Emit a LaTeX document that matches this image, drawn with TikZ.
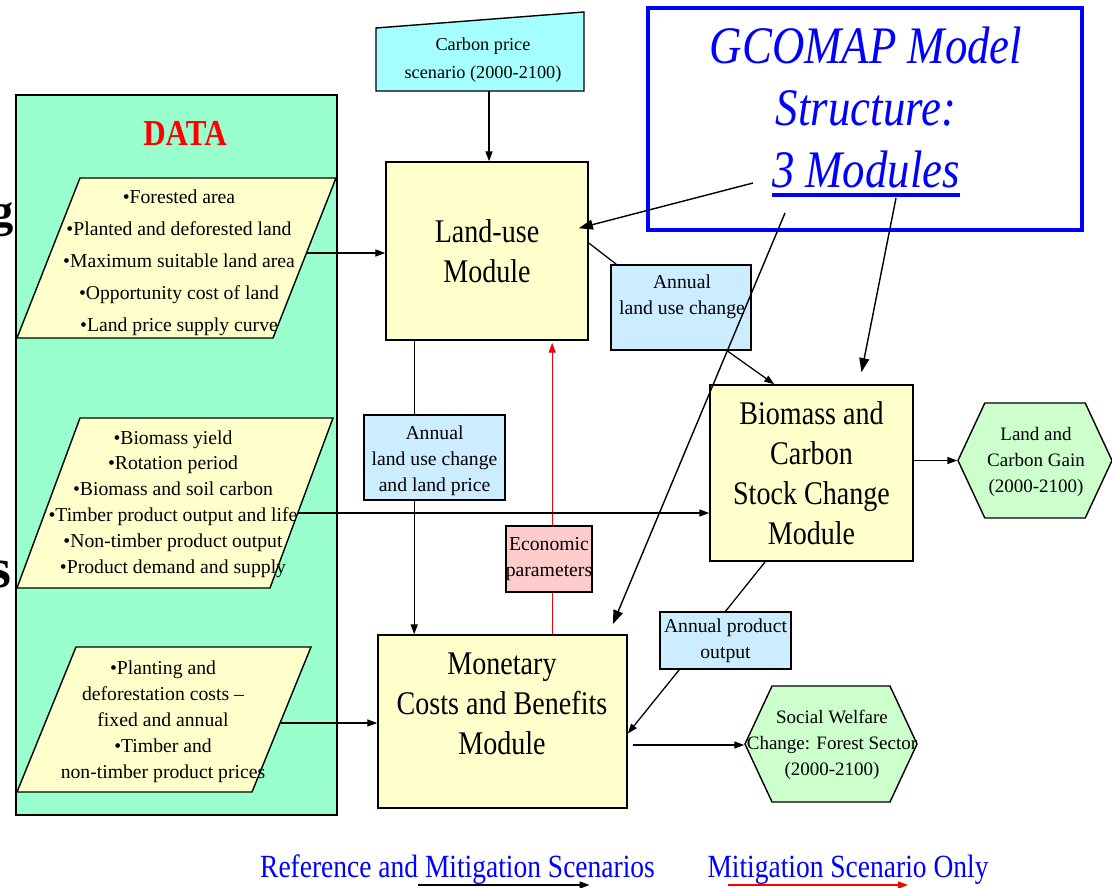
\documentclass[tikz,border=0pt]{standalone}
\usepackage{fontspec}
\setmainfont{Liberation Serif}
\newfontfamily\tightfont{Liberation Serif}[FakeStretch=0.85]
\usetikzlibrary{arrows.meta,calc,shapes.symbols}

\definecolor{panelgreen}{HTML}{99FFCC}
\definecolor{modyellow}{HTML}{FFFFCC}
\definecolor{infoblue}{HTML}{CCECFF}
\definecolor{econpink}{HTML}{FFCCCC}
\definecolor{hexgreen}{HTML}{CCFFCC}
\definecolor{scencyan}{HTML}{A6FFFF}
\definecolor{titleblue}{HTML}{0000FF}

\newsavebox{\ulbox}
\newcommand{\thickul}[1]{\sbox{\ulbox}{#1}\rlap{\rule[-7pt]{\wd\ulbox}{3pt}}\usebox{\ulbox}}

\begin{document}
\begin{tikzpicture}[x=0.025cm,y=-0.025cm,
    every node/.style={inner sep=0pt},
    flow/.style={-{Triangle[length=7pt,width=5pt]}, line width=0.9pt},
    bigflow/.style={-{Triangle[length=10pt,width=7pt]}, line width=1pt},
    module/.style={draw, line width=1.1pt, fill=modyellow, align=center,
        font=\tightfont\fontsize{23.5}{28.3}\selectfont},
    infobox/.style={draw, line width=1pt, fill=infoblue, align=center,
        font=\fontsize{14}{18.4}\selectfont},
    datashape/.style={draw, line width=1pt, fill=modyellow},
    datatext/.style={align=center, font=\fontsize{14}{18.4}\selectfont},
    outhex/.style={signal, signal to=east and west, signal pointer angle=130,
        draw, line width=1pt, fill=hexgreen},
    hextext/.style={align=center, font=\fontsize{13.5}{18.4}\selectfont},
    legend/.style={text=titleblue, font=\tightfont\fontsize{23}{23}\selectfont},
  ]
  \useasboundingbox (0,0) rectangle (1112,888);

  % data panel
  \node[draw, line width=1.2pt, fill=panelgreen, minimum width=8.025cm,
    minimum height=18cm] (panel) at (176.5,455) {};
  \node[text=red, font=\tightfont\bfseries\fontsize{26}{26}\selectfont] (datatitle) at (185,133) {DATA};
  \node[anchor=base east, font=\bfseries\fontsize{33}{33}\selectfont] (cutg) at (14,226) {g};
  \node[anchor=base east, font=\bfseries\fontsize{40}{40}\selectfont] (cuts) at (12,587) {s};

  % data inputs
  \draw[datashape] (80,178) -- (336,178) -- (273,338) -- (17,338) -- cycle;
  \node[datatext, font=\fontsize{14}{22.7}\selectfont] (landdata) at (179,263)
    {•Forested area\\•Planted and deforested land\\•Maximum suitable land area\\•Opportunity cost of land\\•Land price supply curve};
  \draw[datashape] (80,418) -- (333,418) -- (270,588) -- (17,588) -- cycle;
  \node[datatext] (biodata) at (173,504)
    {•Biomass yield\\•Rotation period\\•Biomass and soil carbon\\•Timber product output and life\\•Non-timber product output\\•Product demand and supply};
  \draw[datashape] (76,647) -- (311,647) -- (252,792) -- (17,792) -- cycle;
  \node[datatext] (costdata) at (163,722)
    {•Planting and\\deforestation costs –\\fixed and annual\\•Timber and\\non-timber product prices};
  \coordinate (landout) at (306.5,253);
  \coordinate (bioout) at (298,513);
  \coordinate (costout) at (281,723);

  % carbon price scenario
  \draw[line width=1pt, fill=scencyan] (376,28) -- (584,12) -- (584,91) -- (376,91) -- cycle;
  \node[align=center, font=\fontsize{13}{20}\selectfont] (carbon) at (483,60)
    {Carbon price\\scenario (2000-2100)};
  \coordinate (carbonbase) at (489,91);

  % modules
  \node[module, minimum width=5.05cm, minimum height=4.45cm] (landuse) at (487,251) {Land-use\\Module};
  \node[module, minimum width=5.075cm, minimum height=4.4cm] (biomass) at (811.5,473)
    {Biomass and\\Carbon\\Stock Change\\Module};
  \node[module, minimum width=6.225cm, minimum height=4.325cm] (monetary) at (502.5,721.5) {};
  \node[align=center, font=\tightfont\fontsize{23.5}{28.3}\selectfont] (monetarytext) at (502,704)
    {Monetary\\Costs and Benefits\\Module};

  % outputs
  \node[outhex, minimum width=3.85cm, minimum height=2.875cm] (gainhex) at (1035,460.5) {};
  \node[hextext] (gaintext) at (1036,462) {Land and\\Carbon Gain\\(2000-2100)};
  \node[outhex, minimum width=4.3cm, minimum height=2.9cm] (welfarehex) at (831,744) {};
  \node[hextext] (welfaretext) at (832,745) {Social Welfare\\Change: Forest Sector\\(2000-2100)};

  % model title
  \node[draw=titleblue, line width=2.8pt, fill=white, minimum width=10.85cm,
    minimum height=5.55cm] (gcomap) at (865,119) {};
  \node[align=center, text=titleblue, font=\tightfont\itshape\fontsize{37.5}{44}\selectfont] (gtitle) at (866,112)
    {GCOMAP Model\\Structure:\\\thickul{3 Modules}};

  % flows through label boxes
  \coordinate (lu1) at ($(landuse.south west)+(29,0)$);
  \draw[flow] (lu1) -- (lu1 |- monetary.north);
  \coordinate (mc1) at ($(monetary.north west)+(175,0)$);
  \draw[flow, red, line width=0.8pt] (mc1) -- ($(mc1 |- landuse.south)+(0,2)$);

  % label boxes
  \node[infobox, minimum width=3.5cm, minimum height=2.125cm] (lucbox) at (681,307.5) {};
  \node[datatext] (luctext) at ($(lucbox.center)+(1,-11)$) {Annual\\land use change};
  \node[infobox, minimum width=3.525cm, minimum height=2.125cm] (lupbox) at (434.5,457.5) {};
  \node[datatext] (luptext) at ($(lupbox.center)+(0,3)$) {Annual\\land use change\\and land price};
  \node[infobox, fill=econpink, minimum width=2.1cm, minimum height=1.65cm] (econbox) at (549,559)
    {Economic\\parameters};
  \node[infobox, minimum width=3.275cm, minimum height=1.425cm] (prodbox) at (725.5,640.5)
    {Annual product\\output};

  % connectors
  \draw[flow] (carbonbase) -- (carbonbase |- landuse.north);
  \draw[flow] (landout) -- (landout -| landuse.west);
  \draw[flow] (bioout) -- (bioout -| biomass.west);
  \draw[flow] (costout) -- (costout -| monetary.west);
  \draw[line width=0.9pt] ($(landuse.east)+(0,-8)$) -- ($(lucbox.north west)+(6,0)$);
  \draw[flow] ($(lucbox.south)+(46,0)$) -- ($(biomass.north west)+(65,0)$);
  \draw[flow] (gainhex.west -| biomass.east) -- (gainhex.west);
  \draw[line width=0.9pt] ($(biomass.south west)+(56,0)$) -- (prodbox.north);
  \draw[flow] ($(prodbox.south west)+(20,0)$) -- ($(monetary.east)+(0,12)$);
  \coordinate (mout) at ($(monetary.east)+(5,23.5)$);
  \draw[flow] (mout) -- (mout -| welfarehex.west);

  % title pointers
  \coordinate (g1) at (753,183);
  \coordinate (g2) at (785,213);
  \coordinate (g3) at (896,198);
  \draw[bigflow] (g1) -- ($(landuse.north east)+(-10,67)$);
  \draw[bigflow] (g2) -- ($(monetary.north east)+(-15,-10)$);
  \draw[bigflow] (g3) -- ($(biomass.north)+(50,-12)$);

  % legend
  \node[legend, anchor=base] (legref) at (457.5,877) {Reference and Mitigation Scenarios};
  \node[legend, anchor=base] (legmit) at (848,877) {Mitigation Scenario Only};
  \draw[flow] ($(legref.base)+(-40,8)$) -- ++(172,0);
  \draw[flow, red] ($(legmit.base)+(-120,8)$) -- ++(180,0);
\end{tikzpicture}
\end{document}
